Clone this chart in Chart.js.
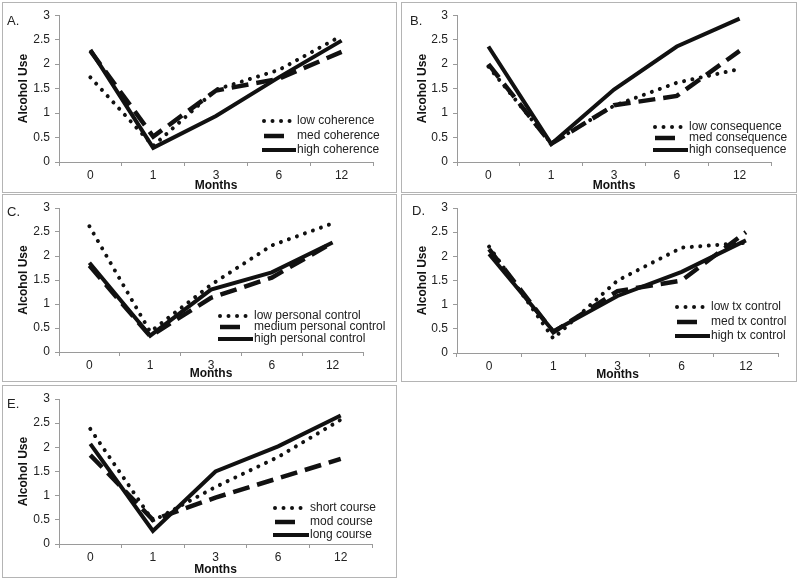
<!DOCTYPE html>
<html>
<head>
<meta charset="utf-8">
<script src="https://cdn.jsdelivr.net/npm/chart.js@4"></script>
<style>
  html, body { margin: 0; padding: 0; background: #fff; }
  body { width: 800px; height: 580px; position: relative; overflow: hidden; font-family: "Liberation Sans", Arial, sans-serif; }
  .panel { position: absolute; border: 1px solid #b4b4b4; box-sizing: border-box; }
  .panel canvas { position: absolute; left: 0; top: 0; }
  .plabel { position: absolute; font-size: 13px; color: #222; line-height: 14px; }
</style>
</head>
<body>
<script>
// ---- data ----
const months = ['0', '1', '3', '6', '12'];
const yMin = 0, yMax = 3, yStep = 0.5;

const panelLabels = ['A.', 'B.', 'C.', 'D.', 'E.'];

const namesA = ['low coherence', 'med coherence', 'high coherence'];
const coherenceLow  = [1.73, 0.33, 1.48, 1.88, 2.58];
const coherenceMed  = [2.27, 0.52, 1.46, 1.70, 2.25];
const coherenceHigh = [2.29, 0.29, 0.94, 1.73, 2.48];

const namesB = ['low consequence', 'med consequence', 'high consequence'];
const consequenceLow  = [1.95, 0.38, 1.15, 1.62, 1.90];
const consequenceMed  = [2.00, 0.37, 1.16, 1.35, 2.27];
const consequenceHigh = [2.36, 0.37, 1.48, 2.36, 2.93];

const namesC = ['low personal control', 'medium personal control', 'high personal control'];
const personalLow  = [2.62, 0.42, 1.40, 2.22, 2.68];
const personalMed  = [1.80, 0.33, 1.13, 1.55, 2.28];
const personalHigh = [1.86, 0.34, 1.30, 1.66, 2.28];

const namesD = ['low tx control', 'med tx control', 'high tx control'];
const txLow  = [2.20, 0.30, 1.50, 2.18, 2.28];
const txMed  = [2.15, 0.43, 1.28, 1.50, 2.50];
const txHigh = [2.05, 0.45, 1.18, 1.68, 2.33];

const namesE = ['short course', 'mod course', 'long course'];
const courseShort = [2.38, 0.48, 1.18, 1.80, 2.57];
const courseMod   = [1.84, 0.50, 0.96, 1.36, 1.76];
const courseLong  = [2.07, 0.27, 1.50, 2.02, 2.66];

// ---- layout (page boxes, plot area inside canvas, legend, titles) ----
const panels = [
  { box: [2, 2, 395, 191],   area: [56, 11, 370, 159], names: namesA, series: [coherenceLow, coherenceMed, coherenceHigh],
    legend: { x: 259, tx: 293, ys: [118, 133, 147] }, label: [7, 14], xtPad: 0.2 },
  { box: [401, 2, 396, 191], area: [55, 11, 369, 159], names: namesB, series: [consequenceLow, consequenceMed, consequenceHigh],
    legend: { x: 251, tx: 286, ys: [124, 135, 147] }, label: [410, 14], xtPad: 0.2 },
  { box: [2, 194, 395, 188], area: [56, 13, 360, 157], names: namesC, series: [personalLow, personalMed, personalHigh],
    legend: { x: 215, tx: 250, ys: [121, 132, 144] }, label: [7, 205], xtPad: 1.2 },
  { box: [401, 194, 396, 188], area: [55, 13, 376, 158], names: namesD, series: [txLow, txMed, txHigh],
    legend: { x: 273, tx: 308, ys: [112, 127, 141] }, label: [412, 204], xtPad: 0 },
  { box: [2, 385, 395, 193], area: [56, 13, 369, 158], names: namesE, series: [courseShort, courseMod, courseLong],
    legend: { x: 270, tx: 306, ys: [122, 136, 149] }, label: [7, 397], xtPad: 1.2 },
];

const FONT = '"Liberation Sans", Arial, sans-serif';
const styles = [
  { borderDash: [0.01, 8.5], borderCapStyle: 'round', borderWidth: 4 },
  { borderDash: [17, 8], borderCapStyle: 'butt', borderWidth: 4.5 },
  { borderDash: [], borderCapStyle: 'butt', borderWidth: 4 },
];

const insideLegend = {
  id: 'insideLegend',
  afterDatasetsDraw(chart, args, opts) {
    const ctx = chart.ctx;
    ctx.save();
    chart.data.datasets.forEach((ds, i) => {
      const y = opts.ys[i];
      ctx.strokeStyle = '#111';
      ctx.lineWidth = ds.borderWidth;
      ctx.lineCap = ds.borderCapStyle;
      ctx.setLineDash(ds.borderDash);
      ctx.beginPath();
      if (i === 1) {
        ctx.setLineDash([]);
        ctx.moveTo(opts.x + 2, y);
        ctx.lineTo(opts.x + 22, y);
      } else if (i === 0) {
        ctx.moveTo(opts.x + 2, y);
        ctx.lineTo(opts.x + 31, y);
      } else {
        ctx.moveTo(opts.x, y);
        ctx.lineTo(opts.tx, y);
      }
      ctx.stroke();
      ctx.setLineDash([]);
      ctx.fillStyle = '#222';
      ctx.font = '12px ' + FONT;
      ctx.textBaseline = 'middle';
      ctx.textAlign = 'left';
      ctx.fillText(ds.label, opts.tx + 1, y);
    });
    ctx.restore();
  }
};

panels.forEach((p) => {
  const [bx, by, bw, bh] = p.box;
  const div = document.createElement('div');
  div.className = 'panel';
  div.style.left = bx + 'px'; div.style.top = by + 'px';
  div.style.width = bw + 'px'; div.style.height = bh + 'px';
  const cw = bw - 2, ch = bh - 2;
  const canvas = document.createElement('canvas');
  canvas.width = cw; canvas.height = ch;
  canvas.style.width = cw + 'px'; canvas.style.height = ch + 'px';
  div.appendChild(canvas);
  document.body.appendChild(div);

  const lab = document.createElement('div');
  lab.className = 'plabel';
  lab.textContent = panelLabels[panels.indexOf(p)];
  lab.style.left = p.label[0] + 'px'; lab.style.top = p.label[1] + 'px';
  document.body.appendChild(lab);

  const [L, T, R, B] = p.area;
  new Chart(canvas, {
    type: 'line',
    data: {
      labels: months,
      datasets: p.series.map((s, i) => Object.assign({
        label: p.names[i], data: s, borderColor: '#111', backgroundColor: '#111',
        pointRadius: 0, tension: 0, fill: false, borderJoinStyle: 'miter'
      }, styles[i]))
    },
    options: {
      responsive: false, animation: false, events: [],
      layout: { padding: { left: 0, top: T, right: cw - R, bottom: 0 } },
      plugins: { legend: { display: false }, tooltip: { enabled: false }, insideLegend: p.legend },
      scales: {
        x: {
          type: 'category', offset: true,
          grid: { display: true, drawOnChartArea: false, drawTicks: true, tickLength: 4, offset: true, color: '#9a9a9a' },
          border: { display: true, color: '#9a9a9a', width: 1 },
          ticks: { color: '#222', font: { family: FONT, size: 12 }, padding: 2, maxRotation: 0, autoSkip: false },
          title: { display: true, text: 'Months', color: '#111', font: { family: FONT, size: 12, weight: 'bold', lineHeight: 1 }, padding: { top: 0, bottom: p.xtPad } },
          afterFit(scale) { scale.height = ch - B; }
        },
        y: {
          min: yMin, max: yMax,
          grid: { display: true, drawOnChartArea: false, drawTicks: true, tickLength: 4, color: '#9a9a9a' },
          border: { display: true, color: '#9a9a9a', width: 1 },
          ticks: { stepSize: yStep, color: '#222', font: { family: FONT, size: 12 }, padding: 5, callback: (v) => String(v) },
          title: { display: true, text: 'Alcohol Use', color: '#111', font: { family: FONT, size: 12, weight: 'bold' }, padding: { top: 13, bottom: 0 } },
          afterFit(scale) { scale.width = L; }
        }
      }
    },
    plugins: [insideLegend]
  });
});
</script>
</body>
</html>
